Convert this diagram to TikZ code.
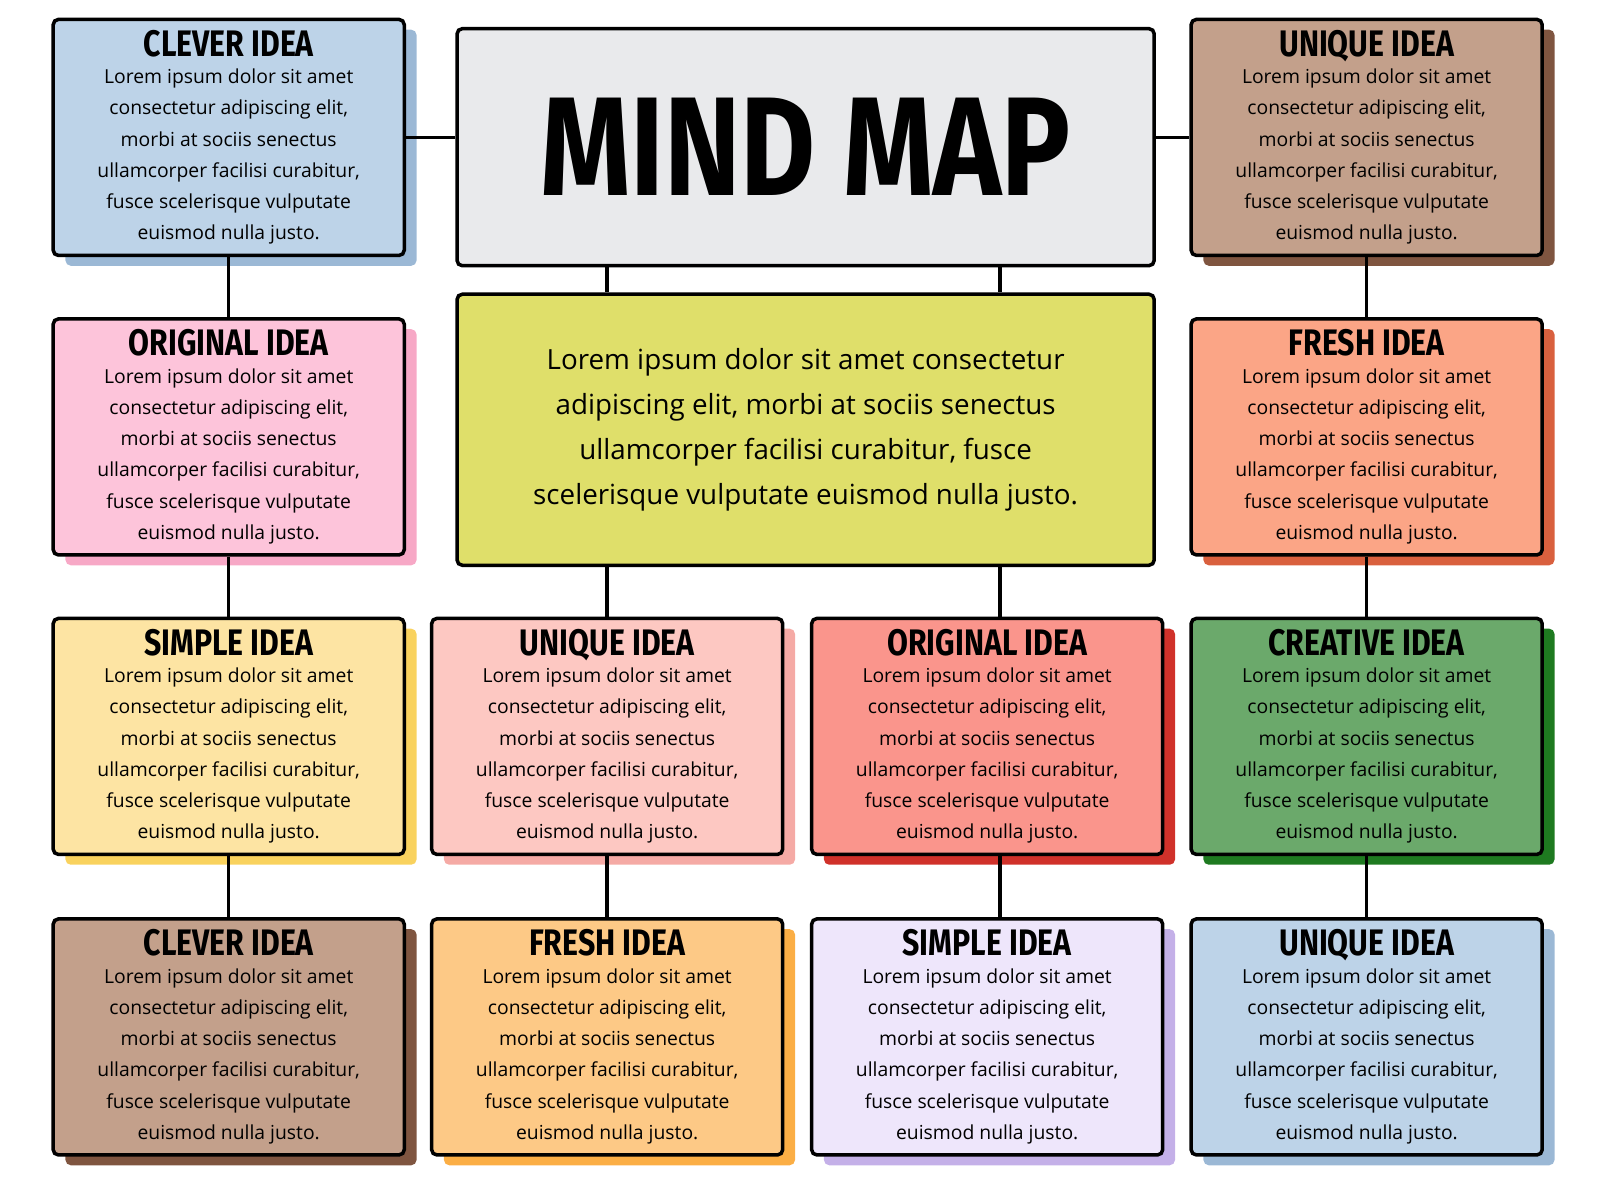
\documentclass[tikz,border=0pt]{standalone}
\usepackage{fontspec}
\setmainfont{Open Sans}
\newfontfamily\headfont[FakeStretch=0.82]{Fira Sans}
\usetikzlibrary{shadows}

\definecolor{skyfill}{HTML}{BDD3E8}\definecolor{skyshade}{HTML}{9BB8D5}
\definecolor{pinkfill}{HTML}{FDC4DA}\definecolor{pinkshade}{HTML}{F7A8C6}
\definecolor{sunfill}{HTML}{FDE4A3}\definecolor{sunshade}{HTML}{F9D25E}
\definecolor{barkfill}{HTML}{C3A08B}\definecolor{barkshade}{HTML}{7F5540}
\definecolor{rosefill}{HTML}{FDC8C2}\definecolor{roseshade}{HTML}{F5AAA5}
\definecolor{apricotfill}{HTML}{FDC986}\definecolor{apricotshade}{HTML}{FBAE45}
\definecolor{redfill}{HTML}{FA958C}\definecolor{redshade}{HTML}{D0312A}
\definecolor{lilacfill}{HTML}{EEE6FB}\definecolor{lilacshade}{HTML}{C4B0E8}
\definecolor{salmonfill}{HTML}{FBA586}\definecolor{salmonshade}{HTML}{D9603E}
\definecolor{leaffill}{HTML}{6BA96B}\definecolor{leafshade}{HTML}{1E7A20}
\definecolor{titlefill}{HTML}{E9EAEC}
\definecolor{limefill}{HTML}{DFDF6A}

\newcommand{\loremtext}{Lorem ipsum dolor sit amet\\consectetur adipiscing elit,\\morbi at sociis senectus\\ullamcorper facilisi curabitur,\\fusce scelerisque vulputate\\euismod nulla justo.}

\tikzset{
  idea/.style 2 args={
    draw, line width=1pt, rounded corners=1.5pt,
    fill=#1, minimum width=3.51cm, minimum height=2.36cm,
    align=center, inner sep=0pt,
    font=\fontsize{5.5}{8.9}\selectfont,
    drop shadow={shadow xshift=0.123cm, shadow yshift=-0.103cm,
      fill=#2, opacity=1}
  },
  link/.style={line width=1pt}
}
\newcommand{\ideanode}[6]{%
  \node[idea={#4}{#5}] (#1) at (#2,#3)
    {{\headfont\bfseries\fontsize{10.5}{10}\selectfont #6}\\[-1.2pt]\loremtext};}

\begin{document}
\begin{tikzpicture}[x=0.01026cm,y=-0.01026cm]
\useasboundingbox (0,0) rectangle (1560,1170);

% title and central text
\node[draw, line width=1pt, rounded corners=1.5pt, fill=titlefill,
  minimum width=6.97cm, minimum height=2.37cm,
  font=\headfont\bfseries\fontsize{40}{40}\selectfont] (title) at (785.5,143.5) {MIND MAP};
\node[draw, line width=1pt, rounded corners=1.5pt, fill=limefill,
  minimum width=6.97cm, minimum height=2.71cm, align=center,
  font=\fontsize{7.9}{12.8}\selectfont] (center) at (785.5,419)
  {Lorem ipsum dolor sit amet consectetur\\adipiscing elit, morbi at sociis senectus\\ullamcorper facilisi curabitur, fusce\\scelerisque vulputate euismod nulla justo.};

% idea boxes
\ideanode{leftA}{223}{134}{skyfill}{skyshade}{CLEVER IDEA}
\ideanode{leftB}{223}{426}{pinkfill}{pinkshade}{ORIGINAL IDEA}
\ideanode{leftC}{223}{718}{sunfill}{sunshade}{SIMPLE IDEA}
\ideanode{leftD}{223}{1011}{barkfill}{barkshade}{CLEVER IDEA}
\ideanode{midlC}{592}{718}{rosefill}{roseshade}{UNIQUE IDEA}
\ideanode{midlD}{592}{1011}{apricotfill}{apricotshade}{FRESH IDEA}
\ideanode{midrC}{962.5}{718}{redfill}{redshade}{ORIGINAL IDEA}
\ideanode{midrD}{962.5}{1011}{lilacfill}{lilacshade}{SIMPLE IDEA}
\ideanode{rightA}{1332.5}{134}{barkfill}{barkshade}{UNIQUE IDEA}
\ideanode{rightB}{1332.5}{426}{salmonfill}{salmonshade}{FRESH IDEA}
\ideanode{rightC}{1332.5}{718}{leaffill}{leafshade}{CREATIVE IDEA}
\ideanode{rightD}{1332.5}{1011}{skyfill}{skyshade}{UNIQUE IDEA}

\coordinate (rlink) at (975,0);

% connectors
\begin{scope}[on background layer/.style={}]
\draw[link] (leftA.east) -- (leftA.east -| title.west);
\draw[link] (rightA.west) -- (rightA.west -| title.east);
\draw[link] (leftA) -- (leftB);
\draw[link] (leftB) -- (leftC);
\draw[link] (leftC) -- (leftD);
\draw[link] (rightA) -- (rightB);
\draw[link] (rightB) -- (rightC);
\draw[link] (rightC) -- (rightD);
\draw[link] (title.south -| midlC) -- (center.north -| midlC);
\draw[link] (title.south -| rlink) -- (center.north -| rlink);
\draw[link] (center.south -| midlC) -- (midlC.north);
\draw[link] (center.south -| rlink) -- (midrC.north -| rlink);
\draw[link] (midlC) -- (midlD);
\draw[link] (midrC.south -| rlink) -- (midrD.north -| rlink);
\end{scope}
\end{tikzpicture}
\end{document}
